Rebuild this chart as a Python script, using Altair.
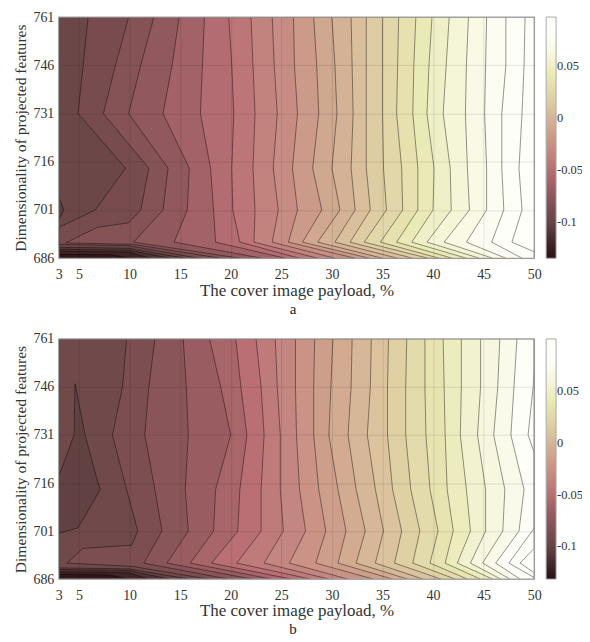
import altair as alt
import pandas as pd

FONT = "Liberation Serif"
X_TICKS = [3, 5, 10, 15, 20, 25, 30, 35, 40, 45, 50]
Y_TICKS = [686, 701, 716, 731, 746, 761]
CB_TICKS = [0.05, 0, -0.05, -0.1]
COLOR_RANGE = ["#2a1013", "#664445", "#93595e", "#b96f74", "#c68a83", "#d0a78f",
               "#d5b597", "#dfd2a5", "#e9e9b4", "#f6f6dc", "#fefef8", "#ffffff"]
A_DOMAIN = [-0.135, -0.1, -0.07, -0.05, -0.03, -0.01, 0.0, 0.02, 0.04, 0.06, 0.08, 0.097]
B_DOMAIN = [-0.132, -0.1, -0.07, -0.05, -0.03, -0.01, 0.0, 0.02, 0.04, 0.06, 0.08, 0.101]

A_BANDS = [-0.131, -0.122, -0.113, -0.105, -0.096, -0.088, -0.079, -0.071, -0.062, -0.053,
           -0.045, -0.036, -0.028, -0.019, -0.010, -0.002, 0.007, 0.016, 0.024, 0.033,
           0.041, 0.050, 0.058, 0.067, 0.076, 0.084, 0.093]
B_BANDS = [-0.128, -0.119, -0.111, -0.102, -0.093, -0.085, -0.076, -0.067, -0.059, -0.050,
           -0.041, -0.033, -0.024, -0.016, -0.007, 0.002, 0.010, 0.019, 0.028, 0.036,
           0.045, 0.054, 0.062, 0.071, 0.080, 0.088, 0.097]

ROWS = [761, 746, 731, 714, 701, 691, 686]

# panel a contours, lowest level first: (payload values, dimensionality values)
A_CONTOURS = [
    ([3, 3, 8.1, 10.1], [761, 687.2, 687.1, 686]),
    ([3, 3, 9.9, 12.1], [761, 688.2, 687.9, 686]),
    ([3, 3, 9.9, 14.0], [761, 688.8, 688.5, 686]),
    ([3, 3, 3.5, 3, 3, 9.9, 15.5], [761, 705, 701, 698, 689.4, 689.1, 686]),
    ([5.9, 5.4, 4.9, 9.6, 6.6, 3, 3, 9.9, 16.8], [761, 746, 731, 714, 701, 695.6, 690.3, 689.9, 686]),
    ([9.9, 8.6, 7.4, 11.9, 11.1, 9.9, 6.8, 3.7, 10.4, 19.0],
     [761, 746, 731, 714, 701, 697, 695.6, 690.8, 690.3, 686]),
    ([12.4, 11.1, 9.9, 13.8, 13.3, 10.4, 20.9], ROWS),
    ([14.9, 14.2, 13.3, 15.9, 15.7, 14.4, 23.1], ROWS),
    ([17.4, 17.2, 17.0, 18.0, 18.3, 18.5, 25.4], ROWS),
    ([19.8, 20.1, 20.3, 20.1, 20.2, 20.9, 26.8], ROWS),
    ([22.0, 22.2, 22.4, 22.2, 22.4, 22.3, 28.6], ROWS),
    ([24.1, 24.3, 24.6, 24.2, 24.7, 24.1, 30.3], ROWS),
    ([26.2, 26.3, 26.6, 26.1, 26.6, 25.7, 32.3], ROWS),
    ([28.2, 28.5, 28.7, 28.1, 29.0, 27.1, 33.7], ROWS),
    ([30.0, 30.3, 30.5, 30.0, 30.8, 28.6, 35.0], ROWS),
    ([31.9, 32.0, 32.1, 31.9, 32.3, 30.3, 36.5], ROWS),
    ([33.4, 33.4, 33.4, 33.4, 33.8, 31.8, 38.0], ROWS),
    ([35.0, 35.0, 35.0, 35.1, 35.4, 33.2, 39.5], ROWS),
    ([36.6, 36.5, 36.4, 36.9, 37.0, 34.8, 40.6], ROWS),
    ([38.3, 38.1, 38.0, 38.5, 38.5, 36.4, 41.9], ROWS),
    ([39.9, 39.6, 39.4, 40.1, 40.0, 37.9, 43.3], ROWS),
    ([41.6, 41.3, 41.0, 41.7, 41.8, 39.4, 44.6], ROWS),
    ([43.5, 43.3, 43.2, 43.4, 43.6, 41.1, 45.9], ROWS),
    ([45.3, 45.2, 45.1, 45.3, 45.3, 43.3, 47.2], ROWS),
    ([47.2, 47.2, 46.8, 46.8, 47.0, 45.8, 48.8], ROWS),
    ([49.1, 49.0, 48.8, 48.5, 48.8, 47.8, 50, 50], [761, 746, 731, 714, 701, 691, 688, 686]),
]

# panel b contours, lowest level first
B_CONTOURS = [
    ([3, 3, 8.0, 9.8], [761, 687.6, 687.3, 686]),
    ([3, 3, 9.9, 11.9], [761, 688.3, 688.0, 686]),
    ([3, 3, 9.9, 13.9], [761, 689.0, 688.7, 686]),
    ([3, 3, 9.9, 15.9], [761, 689.5, 689.2, 686]),
    ([9.7, 9.3, 8.3, 9.7, 10.8, 10.2, 5.4, 3.8, 10.2, 17.8],
     [761, 746, 731, 714, 701, 696.6, 695.6, 691, 690.0, 686]),
    ([12.5, 11.9, 11.5, 12.5, 13.2, 11.4, 19.8], ROWS),
    ([15.3, 15.6, 15.8, 15.5, 15.8, 13.7, 22.1], ROWS),
    ([17.9, 19.0, 20.0, 18.5, 18.3, 16.0, 24.0], ROWS),
    ([20.5, 21.0, 21.6, 20.9, 20.7, 18.1, 26.0], ROWS),
    ([22.5, 23.0, 23.3, 23.0, 23.0, 20.6, 27.9], ROWS),
    ([24.4, 24.6, 24.9, 24.9, 25.2, 23.3, 29.7], ROWS),
    ([26.4, 26.4, 26.5, 26.8, 27.4, 25.8, 31.6], ROWS),
    ([28.3, 28.2, 28.2, 28.7, 29.4, 28.4, 34.1], ROWS),
    ([30.1, 29.9, 29.7, 30.6, 31.4, 30.6, 36.0], ROWS),
    ([32.0, 31.9, 31.6, 32.4, 33.3, 32.4, 37.5], ROWS),
    ([33.9, 33.8, 33.5, 34.3, 35.1, 34.3, 39.0], ROWS),
    ([35.6, 35.5, 35.5, 36.0, 36.9, 36.2, 40.8], ROWS),
    ([37.4, 37.3, 37.3, 37.8, 38.7, 38.0, 42.2], ROWS),
    ([39.2, 39.2, 39.3, 39.7, 40.5, 39.7, 43.4], ROWS),
    ([41.0, 41.1, 41.2, 41.4, 42.0, 41.2, 44.7], ROWS),
    ([42.8, 42.8, 42.7, 43.3, 43.7, 42.4, 45.9], ROWS),
    ([44.7, 44.7, 44.4, 45.2, 45.2, 43.7, 46.7], ROWS),
    ([46.6, 46.4, 46.0, 47.1, 46.9, 44.9, 47.6], ROWS),
    ([48.3, 48.0, 47.7, 49.0, 48.5, 46.2, 48.6], ROWS),
    ([50, 50, 49.9, 49.4, 50, 50, 49.8, 47.5, 50, 50],
     [761, 752, 746, 731, 725.5, 702, 701, 691, 686.5, 686]),
    ([50, 50, 48.6, 50, 50], [761, 695.6, 691, 688, 686]),
]

# closed dark pocket of panel b
B_POCKET_Y = [747, 731, 718, 714, 702, 700.3]
B_POCKET_LEFT = [4.6, 4.5, 3, 3, 3, 3]
B_POCKET_RIGHT = [4.6, 5.6, 6.7, 7.1, 4.9, 3]
B_POCKET_BAND = -0.102

A_W, A_H = 477, 242
B_W, B_H = 477, 241

def enc_x():
    return alt.X("x:Q", scale=alt.Scale(domain=[3, 50], nice=False, zero=False),
                 axis=alt.Axis(values=X_TICKS, title="The cover image payload, %", grid=True,
                               gridColor="#000000", gridOpacity=0.1, gridWidth=1, domain=False,
                               ticks=False, labelPadding=9, titlePadding=1, labelFlush=False,
                               labelOverlap=False, format="d", zindex=1, titleFontSize=17))

def enc_y():
    return alt.Y("y:Q", scale=alt.Scale(domain=[686, 761], nice=False, zero=False),
                 axis=alt.Axis(values=Y_TICKS, title="Dimensionality of projected features", grid=True,
                               gridColor="#000000", gridOpacity=0.1, gridWidth=1, domain=False,
                               ticks=False, labelPadding=5, titlePadding=4, labelFlush=False,
                               labelOverlap=False, format="d", zindex=1, titleFontSize=15.6))

def panel(contours, bands, domain, w, h, letter, letter_y, pocket=None):
    def enc_c():
        return alt.Color("v:Q", scale=alt.Scale(domain=domain, range=COLOR_RANGE, clamp=True),
                         legend=alt.Legend(title=None, values=CB_TICKS, gradientLength=h,
                                           gradientThickness=10, gradientStrokeColor="#aaaaaa",
                                           gradientStrokeWidth=1, offset=12, padding=0,
                                           labelFont=FONT, labelFontSize=12.5, labelColor="#333333",
                                           labelOffset=1, format="~g", direction="vertical",
                                           labelExpr="replace(datum.label, '\u2212', '-')"))
    layers = []
    base = pd.DataFrame({"x": [3, 3], "r": [50, 50], "y": [686, 761], "v": [bands[0]] * 2})
    layers.append(alt.Chart(base).mark_area(orient="horizontal", clip=True).encode(
        x=enc_x(), x2="r:Q", y=enc_y(), color=enc_c()))
    frames = []
    for (xs, ys), band in zip(contours, bands[1:]):
        df = pd.DataFrame({"x": xs, "y": ys})
        df = df.sort_values("y", kind="stable").reset_index(drop=True)
        df["r"] = 50
        df["v"] = band
        df["s"] = range(len(df))
        frames.append(df)
        layers.append(alt.Chart(df).mark_area(orient="horizontal", clip=True).encode(
            x=enc_x(), x2="r:Q", y=enc_y(), color=enc_c()))
    if pocket is not None:
        py, pl, pr, pb = pocket
        dfp = pd.DataFrame({"y": py, "x": pl, "r": pr, "v": [pb] * len(py)})
        dfp = dfp.sort_values("y").reset_index(drop=True)
        dfp["s"] = range(len(dfp))
        layers.append(alt.Chart(dfp).mark_area(orient="horizontal", clip=True).encode(
            x=enc_x(), x2="r:Q", y=enc_y(), color=enc_c()))
    line_kw = dict(color="#000000", opacity=0.42, strokeWidth=1, clip=True)
    for df in frames:
        layers.append(alt.Chart(df).mark_line(**line_kw).encode(
            x=enc_x(), y=enc_y(), order="s:Q"))
    if pocket is not None:
        left = dfp[["x", "y", "s"]]
        right = dfp[["r", "y", "s"]].rename(columns={"r": "x"})
        for part in (left, right):
            layers.append(alt.Chart(part).mark_line(**line_kw).encode(
                x=enc_x(), y=enc_y(), order="s:Q"))
    frame = alt.Chart(pd.DataFrame({"k": [0]})).mark_rect(
        filled=False, stroke="#a0a0a0", strokeWidth=1.2).encode(
        x=alt.value(0), x2=alt.value(w), y=alt.value(0), y2=alt.value(h))
    layers.append(frame)
    label = alt.Chart(pd.DataFrame({"t": [letter]})).mark_text(
        font=FONT, fontSize=15, color="#222222", baseline="middle").encode(
        text="t:N", x=alt.value(235), y=alt.value(letter_y))
    layers.append(label)
    return alt.layer(*layers).properties(width=w, height=h)

top = panel(A_CONTOURS, A_BANDS, A_DOMAIN, A_W, A_H, "a", A_H + 51)
bottom = panel(B_CONTOURS, B_BANDS, B_DOMAIN, B_W, B_H, "b", B_H + 50,
               pocket=(B_POCKET_Y, B_POCKET_LEFT, B_POCKET_RIGHT, B_POCKET_BAND))

chart = alt.vconcat(top, bottom, spacing=15).resolve_scale(color="independent").properties(
    padding={"left": 6, "top": 1, "right": -2, "bottom": 0}
).configure_view(stroke=None).configure_axis(
    labelFont=FONT, titleFont=FONT, labelFontSize=14, titleFontSize=15,
    labelColor="#333333", titleColor="#333333", titleFontWeight="normal"
)
chart.save("out.html", embed_options={"renderer": "svg", "actions": False})
